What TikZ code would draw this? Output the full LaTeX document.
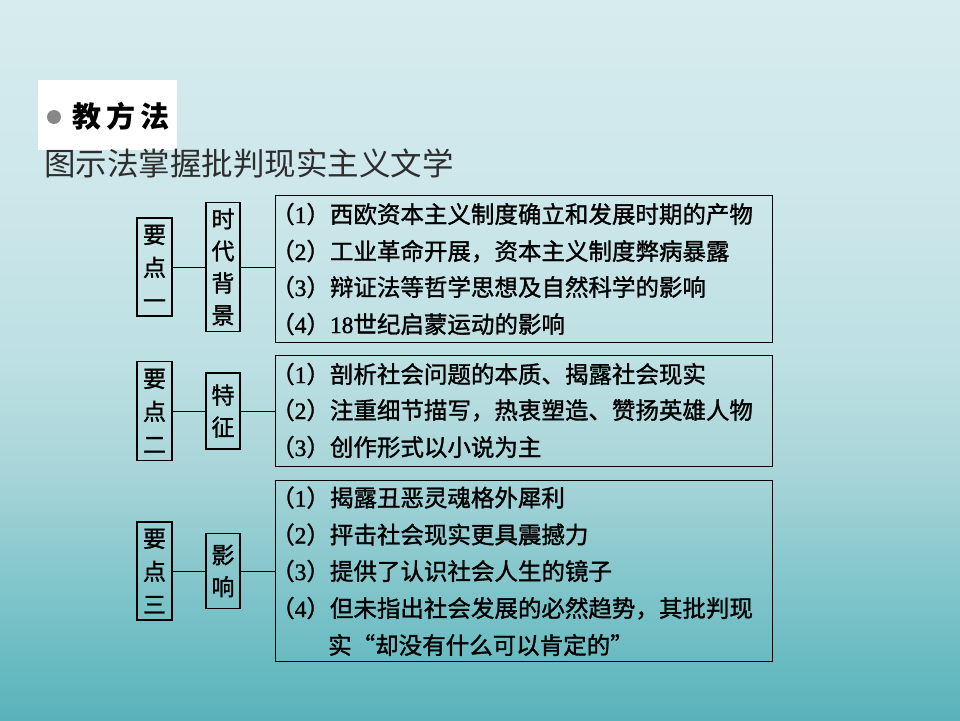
\documentclass[tikz,border=0pt]{standalone}
\usepackage{fontspec}
\setmainfont{Noto Sans CJK SC}
\newfontfamily\cjkb[FakeBold=1.3]{Noto Sans CJK SC}
\newfontfamily\latn[FakeBold=1.3]{Liberation Serif}
\definecolor{bulletgray}{HTML}{888888}
\definecolor{subgray}{HTML}{2E2E2E}
\pgfdeclareverticalshading{bgshade}{100bp}{%
  rgb(0bp)=(0.353,0.698,0.729);
  rgb(25bp)=(0.353,0.698,0.729);
  rgb(30.56bp)=(0.435,0.745,0.769);
  rgb(42.36bp)=(0.659,0.835,0.851);
  rgb(50bp)=(0.741,0.878,0.890);
  rgb(61.81bp)=(0.804,0.906,0.918);
  rgb(75bp)=(0.843,0.925,0.937);
  rgb(100bp)=(0.843,0.925,0.937)}
\begin{document}
\begin{tikzpicture}[x=1pt,y=-1pt,
  kbox/.style={draw=black, line width=1.2pt, inner sep=0pt, minimum width=35pt,
    align=center, font=\cjkb\fontsize{23}{33}\selectfont},
  tbox/.style={draw=black, line width=1.2pt, inner sep=0pt, minimum width=34pt,
    align=center, font=\cjkb\fontsize{23}{32}\selectfont},
  bigbox/.style={draw=black, line width=1pt, minimum width=497pt, inner sep=0pt},
  item/.style={anchor=base west, inner sep=0pt, font=\cjkb\fontsize{23.5}{28}\selectfont},
  link/.style={draw=black, line width=1pt}]
\fill[shading=bgshade] (0,0) rectangle (960,720);
\useasboundingbox (0,0) rectangle (960,720);

% heading
\node[fill=white, minimum width=139pt, minimum height=70pt, inner sep=0pt, anchor=north west] (hbox) at (38,80) {};
\node[circle, fill=bulletgray, minimum size=14pt, inner sep=0pt] (bul) at (54,117) {};
\node[anchor=base west, inner sep=0pt, font=\fontsize{29}{29}\selectfont\bfseries] (htitle) at (72,127) {教\hspace{5pt}方\hspace{5pt}法};
\node[anchor=base west, inner sep=0pt, font=\fontsize{31.5}{32}\selectfont, text=subgray] (sub) at (44,175.5) {图示法掌握批判现实主义文学};

% group 1
\node[kbox, minimum height=98pt] (k1) at (154.5,267) {要\\点\\一};
\node[tbox, minimum height=129pt] (t1) at (223,267) {时\\代\\背\\景};
\node[bigbox, minimum height=147pt] (b1) at (523.5,268.5) {};
\draw[link] (k1.east) -- (t1.west);
\draw[link] (t1.east) -- (t1.east -| b1.west);
\node[item] (i11) at (271,223) {（{\latn 1}）西欧资本主义制度确立和发展时期的产物};
\node[item] (i12) at (271,260) {（{\latn 2}）工业革命开展，资本主义制度弊病暴露};
\node[item] (i13) at (271,296) {（{\latn 3}）辩证法等哲学思想及自然科学的影响};
\node[item] (i14) at (271,333) {（{\latn 4}）{\latn 18}世纪启蒙运动的影响};

% group 2
\node[kbox, minimum height=99pt] (k2) at (154.5,411) {要\\点\\二};
\node[tbox, minimum height=76pt] (t2) at (223,411) {特\\征};
\node[bigbox, minimum height=111pt] (b2) at (523.5,410.5) {};
\draw[link] (k2.east) -- (t2.west);
\draw[link] (t2.east) -- (t2.east -| b2.west);
\node[item] (i21) at (271,383) {（{\latn 1}）剖析社会问题的本质、揭露社会现实};
\node[item] (i22) at (271,419) {（{\latn 2}）注重细节描写，热衷塑造、赞扬英雄人物};
\node[item] (i23) at (271,456) {（{\latn 3}）创作形式以小说为主};

% group 3
\node[kbox, minimum height=98pt] (k3) at (154.5,571) {要\\点\\三};
\node[tbox, minimum height=75pt] (t3) at (223,571) {影\\响};
\node[bigbox, minimum height=181pt] (b3) at (523.5,570.5) {};
\draw[link] (k3.east) -- (t3.west);
\draw[link] (t3.east) -- (t3.east -| b3.west);
\node[item] (i31) at (271,506.5) {（{\latn 1}）揭露丑恶灵魂格外犀利};
\node[item] (i32) at (271,543.5) {（{\latn 2}）抨击社会现实更具震撼力};
\node[item] (i33) at (271,580) {（{\latn 3}）提供了认识社会人生的镜子};
\node[item] (i34) at (271,617) {（{\latn 4}）但未指出社会发展的必然趋势，其批判现};
\node[item] (i35) at (328,654) {实“却没有什么可以肯定的”};
\end{tikzpicture}
\end{document}
